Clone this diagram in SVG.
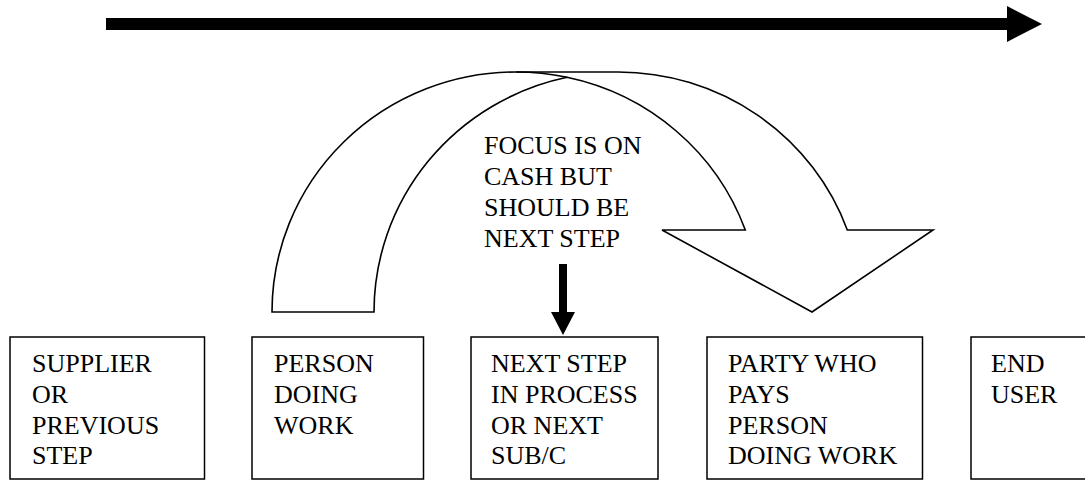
<svg xmlns="http://www.w3.org/2000/svg" width="1085" height="482" viewBox="0 0 1085 482">
<style>
.box{fill:#fff;stroke:#000;stroke-width:1.5}
text{font-family:'Liberation Serif','Times New Roman',serif;font-size:26px;fill:#000}
.shape{fill:#fff;stroke:#000;stroke-width:1.6;stroke-linejoin:miter}
.line{fill:none;stroke:#000;stroke-width:1.6}
</style>
<rect width="1085" height="482" fill="#fff"/>
<g id="curved-arrow">
<path class="shape" d="M272 312 A244 240 0 0 1 516 72 L618 72 A244 240 0 0 1 847.3 230 L933 230 L812 312 L662 230 L745.3 230 A244 240 0 0 0 567 77.3 A244 240 0 0 0 374 312 Z"/>
<path class="line" d="M567 77.3 A244 240 0 0 0 516 72"/>
</g>
<g id="note">
<text x="484" y="154">FOCUS IS ON</text>
<text x="484" y="185">CASH BUT</text>
<text x="484" y="216">SHOULD BE</text>
<text x="484" y="247">NEXT STEP</text>
</g>
<g id="connectors">
<path d="M106 18 H1007 V6 L1042 24 L1007 42 V30 H106 Z" fill="#000"/>
<path d="M559 264 H567 V312 H575 L563 335 L551 312 H559 Z" fill="#000"/>
</g>
<g id="supplier">
<rect class="box" x="10" y="337" width="194.5" height="142"/>
<text x="32" y="372">SUPPLIER</text>
<text x="32" y="403">OR</text>
<text x="32" y="434">PREVIOUS</text>
<text x="32" y="464">STEP</text>
</g>
<g id="person">
<rect class="box" x="252" y="337" width="171.5" height="142"/>
<text x="274" y="372">PERSON</text>
<text x="274" y="403">DOING</text>
<text x="274" y="434">WORK</text>
</g>
<g id="next-step">
<rect class="box" x="471" y="337" width="187" height="142"/>
<text x="491" y="372">NEXT STEP</text>
<text x="491" y="403">IN PROCESS</text>
<text x="491" y="434">OR NEXT</text>
<text x="491" y="464">SUB/C</text>
</g>
<g id="payer">
<rect class="box" x="707" y="337" width="215.5" height="142"/>
<text x="728" y="372">PARTY WHO</text>
<text x="728" y="403">PAYS</text>
<text x="728" y="434">PERSON</text>
<text x="728" y="464">DOING WORK</text>
</g>
<g id="end-user">
<rect class="box" x="971" y="337" width="130" height="142"/>
<text x="991" y="372">END</text>
<text x="991" y="403">USER</text>
</g>
</svg>
